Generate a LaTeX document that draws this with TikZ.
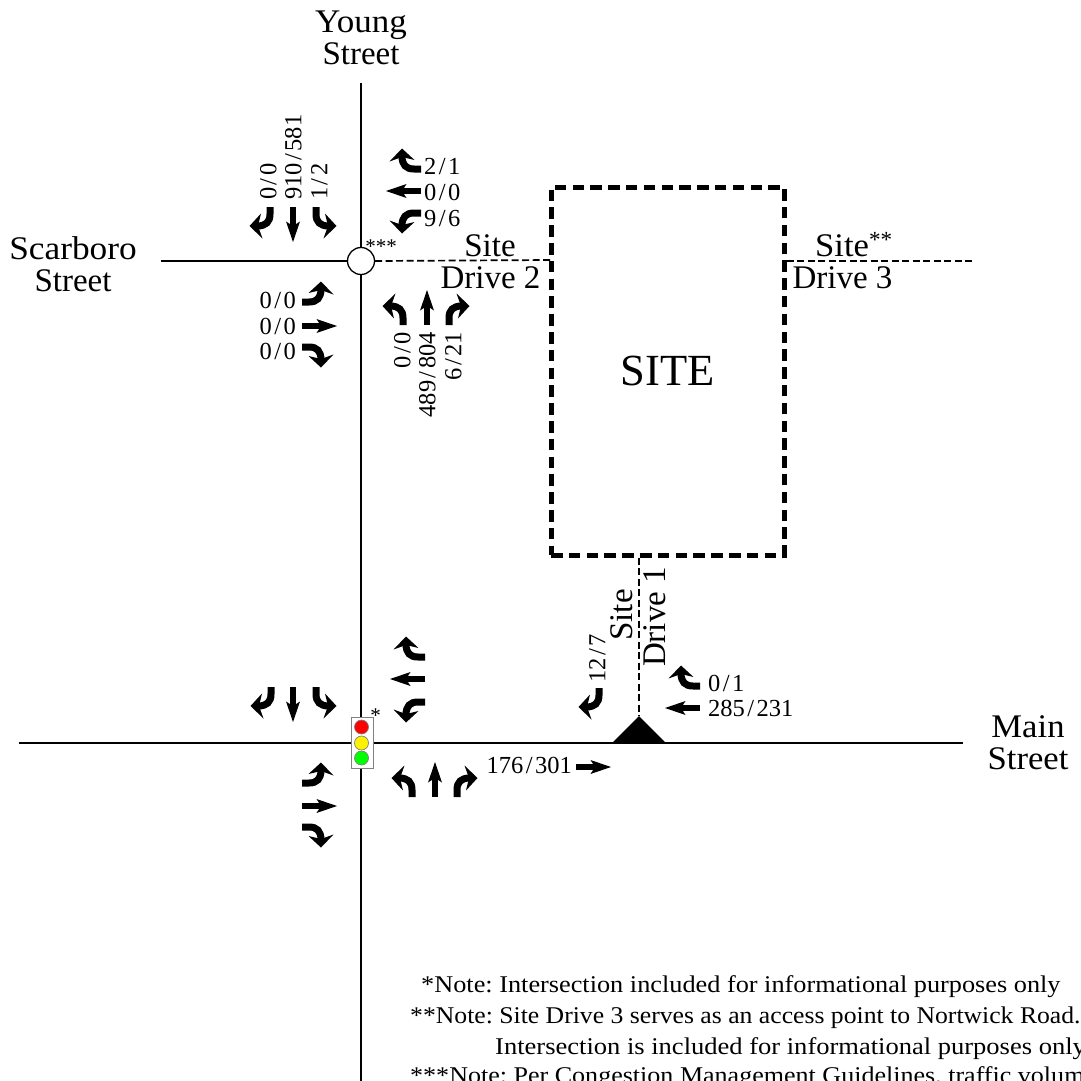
\documentclass[tikz,border=0pt]{standalone}
\usepackage{graphicx}
\usepackage{fontspec}
\setmainfont{Liberation Serif}
\frenchspacing
\newcommand{\Sl}{\kern.1em/\kern.1em}
\newcommand{\turnpath}{%
  \draw[line width=7pt,line cap=butt] (0,0) -- (0,-7) .. controls (0,-15) and (4,-19) .. (13,-19);
  \fill (20.5,-19) -- (7.5,-31.5) -- (12,-19) -- (9,-6.5) -- cycle;}
\tikzset{
  x=1pt,y=-1pt,
  road/.style={line width=2pt,black},
  drive/.style={line width=1.7pt,dash pattern=on 7pt off 3.5pt},
  big/.style={font=\fontsize{33}{32}\selectfont,align=center,inner sep=0pt},
  num/.style={font=\fontsize{24.5}{24.5}\selectfont,inner sep=0pt,text height=16.5pt,text depth=0pt},
  note/.style={font=\fontsize{24}{24}\selectfont,inner sep=0pt,anchor=base west},
  star/.style={font=\fontsize{21}{21}\selectfont,inner sep=0pt},
  lamp/.style={circle,draw=gray,line width=.7pt,minimum size=14pt,inner sep=0pt},
  pics/sarrow/.style={code={
    \fill (-2.75,0) rectangle (2.75,-19);
    \fill (0,-35) -- (7,-14.5) -- (0,-19) -- (-7,-14.5) -- cycle;}},
  pics/rturn/.style={code={\turnpath}},
  pics/lturn/.style={code={\begin{scope}[xscale=-1]\turnpath\end{scope}}},
}
\begin{document}
\begin{tikzpicture}
\useasboundingbox (0,0) rectangle (1081,1081);
\fill[white] (0,0) rectangle (1081,1081);
\clip (0,0) rectangle (1081,1081);

% road ends
\coordinate (youngN) at (361,83);
\coordinate (youngS) at (361,1081);
\coordinate (scarW) at (161,261);
\coordinate (mainW) at (19,743);
\coordinate (mainE) at (963,743);
\coordinate (d2end) at (551,260);
\coordinate (d3end) at (973,261);
\coordinate (apex) at (639,716);

\draw[road] (youngN) -- (youngS);
\draw[road] (mainW) -- (mainE);
\node[circle,draw,fill=white,line width=1.3pt,minimum size=27pt,inner sep=0pt] (circ) at (361,261) {};
\draw[road] (scarW) -- (circ.west);
\draw[drive] (circ.east) -- (d2end);

% site
\node[draw,line width=5pt,dash pattern=on 11.5pt off 6.3pt,minimum width=233pt,minimum height=368pt,inner sep=0pt,font=\fontsize{44.5}{44.5}\selectfont] (site) at (667.5,371) {\raisebox{-2pt}{SITE}};
\coordinate (d3start) at (site.east |- d3end);
\coordinate (d1start) at (site.south -| apex);
\draw[drive] (d3start) -- (d3end);
\draw[drive] (d1start) -- (apex);
\fill (apex) -- (666,743) -- (612,743) -- cycle;

% signal
\node[draw=gray,fill=white,line width=.9pt,minimum width=22pt,minimum height=51pt,inner sep=0pt] (signal) at (362,742.5) {};
\node[lamp,fill=red] (lampr) at (361.5,727) {};
\node[lamp,fill=yellow] (lampy) at (361.5,743) {};
\node[lamp,fill=green] (lampg) at (361.5,758) {};

% street labels
\node[big] (young) at (361,38) {\scalebox{1.06}[1]{Young}\\Street};
\node[big] (scar) at (73,264) {\scalebox{1.07}[1]{Scarboro}\\Street};
\node[big] (mainst) at (1028,743) {\scalebox{1.05}[1]{Main}\\\scalebox{1.05}[1]{Street}};
\node[big] (s2a) at (490,246) {Site};
\node[big] (s2b) at (490.5,278) {Drive 2};
\node[big,anchor=west] (s3a) at (815,245) {\scalebox{1.05}[1]{Site}\textsuperscript{**}};
\node[big] (s3b) at (842.5,278) {Drive 3};
\node[big,rotate=90] (s1a) at (622,615) {Site};
\node[big,rotate=90] (s1b) at (655,617) {Drive 1};
\node[star] (st3) at (381,247) {***};
\node[star] (st1) at (375.5,716) {*};

% top intersection numbers
\node[num,rotate=90,anchor=west] (n1) at (268,200) {0\Sl 0};
\node[num,rotate=90,anchor=west] (n2) at (293,200) {910\Sl 581};
\node[num,rotate=90,anchor=west] (n3) at (319,200) {1\Sl 2};
\node[num,anchor=west] (n4) at (424,166) {2\Sl 1};
\node[num,anchor=west] (n5) at (424,192) {0\Sl 0};
\node[num,anchor=west] (n6) at (424,218) {9\Sl 6};
\node[num,anchor=east] (n7) at (296,300) {0\Sl 0};
\node[num,anchor=east] (n8) at (296,326) {0\Sl 0};
\node[num,anchor=east] (n9) at (296,351) {0\Sl 0};
\node[num,rotate=90,anchor=east] (n10) at (402,332) {0\Sl 0};
\node[num,rotate=90,anchor=east] (n11) at (427,332) {489\Sl 804};
\node[num,rotate=90,anchor=east] (n12) at (453,332) {6\Sl 21};
% drive 1 numbers
\node[num,rotate=90,anchor=west] (n13) at (597,683) {12\Sl 7};
\node[num,anchor=west] (n14) at (708,683) {0\Sl 1};
\node[num,anchor=west] (n15) at (708,708) {285\Sl 231};
\node[num,anchor=east] (n16) at (572,765) {176\Sl 301};

% top intersection arrows
\pic[rotate=180] at (270,207) {rturn};
\pic[rotate=180] at (293,207) {sarrow};
\pic[rotate=180] at (316,207) {lturn};
\pic[rotate=90] at (421,169) {rturn};
\pic[rotate=90] at (421,191) {sarrow};
\pic[rotate=90] at (421,213) {lturn};
\pic[rotate=-90] at (302,302) {lturn};
\pic[rotate=-90] at (302,326) {sarrow};
\pic[rotate=-90] at (302,347) {rturn};
\pic at (403,325) {lturn};
\pic at (427,325) {sarrow};
\pic at (449,325) {rturn};
% bottom intersection arrows
\pic[rotate=180] at (271,687) {rturn};
\pic[rotate=180] at (293,687) {sarrow};
\pic[rotate=180] at (316,687) {lturn};
\pic[rotate=90] at (425,657) {rturn};
\pic[rotate=90] at (425,679) {sarrow};
\pic[rotate=90] at (425,702) {lturn};
\pic[rotate=-90] at (302,783) {lturn};
\pic[rotate=-90] at (302,806) {sarrow};
\pic[rotate=-90] at (302,827) {rturn};
\pic at (412,797) {lturn};
\pic at (435,797) {sarrow};
\pic at (457,797) {rturn};
% drive 1 arrows
\pic[rotate=180] at (599,688) {rturn};
\pic[rotate=90] at (700,686) {rturn};
\pic[rotate=90] at (700,708) {sarrow};
\pic[rotate=-90] at (576,767) {sarrow};

% notes
\node[note] (note1) at (421,992) {\scalebox{1.095}[1]{*Note: Intersection included for informational purposes only}};
\node[note] (note2) at (410,1023) {\scalebox{1.07}[1]{**Note: Site Drive 3 serves as an access point to Nortwick Road.}};
\node[note] (note3) at (495,1054) {\scalebox{1.105}[1]{Intersection is included for informational purposes only}};
\node[note] (note4) at (410,1083) {\scalebox{1.085}[1]{***Note: Per Congestion Management Guidelines, traffic volum}};
\end{tikzpicture}
\end{document}
